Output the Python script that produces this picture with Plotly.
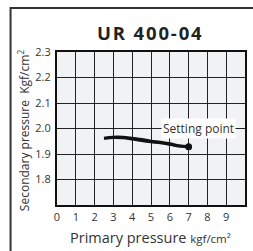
import plotly.graph_objects as go

# Data
x_up = [2.5, 3.0, 3.5, 4.0, 4.5, 5.0, 5.5, 6.0, 6.5, 7.0]
y_up = [1.962, 1.966, 1.966, 1.962, 1.957, 1.950, 1.946, 1.940, 1.932, 1.928]
x_down = [7.0, 6.5, 6.0, 5.5, 5.0, 4.5, 4.0, 3.5, 3.0, 2.5]
y_down = [1.928, 1.930, 1.937, 1.943, 1.947, 1.952, 1.958, 1.963, 1.964, 1.962]
set_x = [7.0]
set_y = [1.928]
x_ticks = [0, 1, 2, 3, 4, 5, 6, 7, 8, 9]
y_ticks = [1.8, 1.9, 2.0, 2.1, 2.2, 2.3]
title_text = "UR 400-04"

fig = go.Figure()
fig.add_trace(go.Scatter(x=x_up, y=y_up, mode="lines",
                         line=dict(color="#111", width=3, shape="spline"), showlegend=False))
fig.add_trace(go.Scatter(x=x_down, y=y_down, mode="lines",
                         line=dict(color="#111", width=2.5, shape="spline"), showlegend=False))
fig.add_trace(go.Scatter(x=set_x, y=set_y, mode="markers",
                         marker=dict(color="#111", size=7), showlegend=False))

fig.update_layout(
    width=253, height=251,
    margin=dict(l=57, r=6, t=52, b=46),
    paper_bgcolor="white",
    plot_bgcolor="#f1f2f4",
    font=dict(family="Open Sans", color="#333"),
    xaxis=dict(range=[0, 10], tickvals=x_ticks, ticktext=[str(v) for v in x_ticks],
               showgrid=True, gridcolor="#222", gridwidth=1.3,
               showline=True, linecolor="#111", linewidth=2, mirror=True,
               ticks="outside", ticklen=1, tickcolor="rgba(0,0,0,0)",
               tickfont=dict(size=11, color="#333"), zeroline=False),
    yaxis=dict(range=[1.7, 2.3], tickvals=y_ticks, ticktext=[f"{v:.1f}" for v in y_ticks],
               showgrid=True, gridcolor="#222", gridwidth=1.3,
               showline=True, linecolor="#111", linewidth=2, mirror=True,
               ticks="outside", ticklen=2, tickcolor="rgba(0,0,0,0)",
               tickfont=dict(size=11, color="#333"), zeroline=False),
)

fig.add_shape(type="rect", xref="paper", yref="paper",
              x0=-0.247, y0=-0.4, x1=1.1, y1=1.2876,
              line=dict(color="#333", width=2), fillcolor="rgba(0,0,0,0)", layer="above")

spaced_title = "\u200a".join(list(title_text))
fig.add_annotation(text="<b>" + spaced_title + "</b>", xref="paper", yref="paper",
                   x=0.49, y=1.125, xanchor="center", yanchor="middle", showarrow=False,
                   font=dict(size=18.5, color="#222"))
fig.add_annotation(text="Secondary pressure  Kgf/cm<sup>2</sup>", xref="paper", yref="paper",
                   x=-0.175, y=0.49, xanchor="center", yanchor="middle", textangle=-90,
                   showarrow=False, font=dict(size=12, color="#333"))
fig.add_annotation(text="Primary pressure <span style='font-size:11.5px'>kgf/cm²</span>",
                   xref="paper", yref="paper", x=0.495, y=-0.215, xanchor="center",
                   yanchor="middle", showarrow=False, font=dict(size=14.5, color="#333"))
fig.add_annotation(text="Setting point", x=7.55, y=2.0, showarrow=False,
                   bgcolor="white", borderpad=1, font=dict(size=12, color="#333"))

fig.write_html("out.html", config={"displayModeBar": False},
               post_script="document.body.style.margin='0';document.body.style.overflow='hidden';")
